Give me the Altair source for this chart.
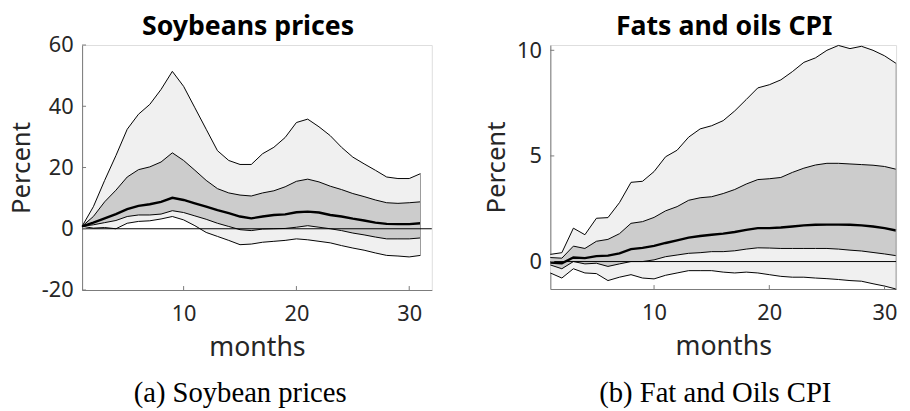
import altair as alt
import pandas as pd

months = list(range(1, 32))

# Soybean prices (percent)
soy_hi90 = [0.8, 7.2, 15.8, 23.9, 32.5, 37.4, 40.6, 45.5, 51.4, 46.5, 39.5, 32.5, 25.5, 22.3, 21.0, 21.0,
            24.5, 26.6, 29.8, 34.7, 35.8, 33.3, 30.4, 26.6, 23.4, 21.2, 19.1, 16.9, 16.4, 16.4, 18.0]
soy_hi68 = [0.8, 4.0, 8.8, 12.6, 16.9, 19.3, 20.2, 21.8, 24.8, 22.3, 19.1, 15.8, 13.1, 11.7, 11.0, 10.7,
            11.7, 12.4, 13.7, 15.5, 16.2, 15.3, 13.9, 12.8, 11.5, 10.5, 9.4, 8.5, 8.3, 8.5, 8.8]
soy_med = [0.8, 2.0, 3.4, 4.8, 6.4, 7.5, 8.0, 8.8, 10.1, 9.4, 8.3, 7.2, 6.1, 5.1, 4.0, 3.4,
           4.0, 4.5, 4.7, 5.4, 5.6, 5.3, 4.5, 4.0, 3.3, 2.7, 2.0, 1.6, 1.5, 1.5, 1.8]
soy_lo68 = [0.8, 1.3, 2.0, 2.7, 4.0, 4.5, 4.5, 4.8, 5.9, 5.3, 4.2, 3.1, 1.8, 0.75, -0.3, -0.6,
            -0.1, 0.0, 0.1, 0.5, 1.0, 0.5, 0.0, -0.6, -1.4, -2.0, -2.7, -3.3, -3.3, -3.3, -3.0]
soy_lo90 = [0.8, 0.2, 0.4, 0.0, 1.8, 2.4, 2.6, 3.2, 4.0, 2.9, 1.0, -1.2, -2.5, -3.8, -5.2, -5.0,
            -4.4, -4.1, -3.8, -3.3, -3.6, -4.1, -4.6, -5.5, -6.3, -7.0, -7.9, -8.7, -8.9, -9.2, -8.7]

# Fats and oils CPI (percent)
fat_hi90 = [0.34, 0.42, 1.58, 1.27, 2.05, 2.08, 2.79, 3.75, 3.80, 4.26, 4.96, 5.27, 5.89, 6.28, 6.43, 6.67,
            7.13, 7.67, 8.22, 8.37, 8.60, 8.99, 9.43, 9.64, 10.0, 10.23, 10.08, 10.19, 10.0, 9.74, 9.38]
fat_hi68 = [0.19, 0.16, 0.73, 0.62, 0.96, 1.05, 1.32, 1.81, 1.89, 2.09, 2.40, 2.60, 2.90, 3.02, 3.07, 3.22,
            3.41, 3.67, 3.88, 3.92, 3.98, 4.22, 4.42, 4.57, 4.65, 4.65, 4.62, 4.59, 4.56, 4.50, 4.37]
fat_med = [-0.05, -0.08, 0.19, 0.16, 0.26, 0.28, 0.39, 0.59, 0.65, 0.74, 0.88, 1.0, 1.13, 1.21, 1.27, 1.32,
           1.40, 1.50, 1.58, 1.58, 1.61, 1.66, 1.71, 1.74, 1.75, 1.75, 1.74, 1.71, 1.66, 1.58, 1.47]
fat_lo68 = [-0.16, -0.34, 0.0, -0.11, -0.08, -0.23, -0.11, 0.0, 0.0, 0.08, 0.23, 0.31, 0.39, 0.42, 0.47, 0.47,
            0.51, 0.59, 0.65, 0.64, 0.62, 0.62, 0.62, 0.62, 0.62, 0.59, 0.54, 0.50, 0.43, 0.36, 0.28]
fat_lo90 = [-0.54, -0.78, -0.34, -0.54, -0.57, -0.90, -0.74, -0.62, -0.78, -0.82, -0.65, -0.54, -0.43, -0.43,
            -0.43, -0.50, -0.54, -0.50, -0.54, -0.62, -0.70, -0.74, -0.74, -0.78, -0.81, -0.85, -0.90, -0.93,
            -1.05, -1.16, -1.30]

x_ticks = [10, 20, 30]
soy_yticks = [-20, 0, 20, 40, 60]
fat_yticks = [0, 5, 10]

titles = ["Soybeans prices", "Fats and oils CPI"]
captions = ["(a) Soybean prices", "(b) Fat and Oils CPI"]

SANS = "Noto Sans"
AXIS_GRAY = "#7a7a7a"
LABEL = "#262626"


def panel(title, caption, hi90, hi68, med, lo68, lo90, xdom, ydom, yticks, width, height, title_x, cap_x):
    df = pd.DataFrame({"month": months, "hi90": hi90, "hi68": hi68, "med": med, "lo68": lo68, "lo90": lo90})
    xs = alt.Scale(domain=xdom, nice=False, zero=False)
    ys = alt.Scale(domain=ydom, nice=False, zero=False)
    xaxis = alt.Axis(values=x_ticks, title="months", grid=False, tickSize=0, domainColor=AXIS_GRAY,
                     domainWidth=1, labelFont=SANS, labelFontSize=22, labelColor=LABEL,
                     labelBaseline="alphabetic", labelPadding=31, titleFont=SANS, titleFontSize=27,
                     titleFontWeight="normal", titleColor=LABEL, titleBaseline="alphabetic",
                     titlePadding=31, labelExpr="'' + datum.value")
    yaxis = alt.Axis(values=yticks, title="Percent", grid=False, tickSize=0, domainColor=AXIS_GRAY,
                     domainWidth=1, labelFont=SANS, labelFontSize=22, labelColor=LABEL, labelPadding=9,
                     titleFont=SANS, titleFontSize=26, titleFontWeight="normal", titleColor=LABEL,
                     titlePadding=7, labelExpr="'' + datum.value")

    def X(f):
        return alt.X(f, type="quantitative", scale=xs, axis=xaxis)

    def Y(f):
        return alt.Y(f, type="quantitative", scale=ys, axis=yaxis)

    base = alt.Chart(df)
    outer = base.mark_area(color="#f0f0f0", opacity=1).encode(x=X("month"), y=Y("lo90"), y2="hi90")
    inner = base.mark_area(color="#cccccc", opacity=1).encode(x=X("month"), y=Y("lo68"), y2="hi68")
    edges = [base.mark_line(color="black", strokeWidth=1).encode(x=X("month"), y=Y(c))
             for c in ["hi90", "lo90", "hi68", "lo68"]]
    median = base.mark_line(color="black", strokeWidth=2.4).encode(x=X("month"), y=Y("med"))
    endedge = base.transform_filter("datum.month == 31").mark_rule(color="#9a9a9a", strokeWidth=1).encode(
        x=X("month"), y=Y("lo90"), y2="hi90")
    zero = alt.Chart(pd.DataFrame({"v": [0]})).mark_rule(color="black", strokeWidth=1).encode(
        y=Y("v"), x=alt.value(0), x2=alt.value(width))
    xt = alt.Chart(pd.DataFrame({"t": x_ticks})).mark_rule(color=AXIS_GRAY, strokeWidth=1).encode(
        x=X("t"), y=alt.value(height), y2=alt.value(height - 4))
    yt = alt.Chart(pd.DataFrame({"t": yticks})).mark_rule(color=AXIS_GRAY, strokeWidth=1).encode(
        y=Y("t"), x=alt.value(0), x2=alt.value(4))
    ttl = alt.Chart(pd.DataFrame({"c": [title]})).mark_text(
        font=SANS, fontSize=27, fontWeight="bold", align="center", baseline="alphabetic", color="black").encode(
        text="c:N", x=alt.value(title_x), y=alt.value(-10))
    cap = alt.Chart(pd.DataFrame({"c": [caption]})).mark_text(
        font="Liberation Serif", fontSize=29, align="center", baseline="alphabetic", color="black").encode(
        text="c:N", x=alt.value(cap_x), y=alt.value(361))

    return alt.layer(outer, inner, *edges, median, endedge, zero, xt, yt, ttl, cap).properties(
        width=width, height=height)


left = panel(titles[0], captions[0], soy_hi90, soy_hi68, soy_med, soy_lo68, soy_lo90,
             [1, 32], [-20, 60], soy_yticks, 354, 248, 168, 160)
right = panel(titles[1], captions[1], fat_hi90, fat_hi68, fat_med, fat_lo68, fat_lo90,
              [1, 31], [-1.3, 10.25], fat_yticks, 350, 247, 176, 167)

chart = alt.hconcat(left, right, spacing=51).properties(
    padding={"left": 0, "top": 2, "right": 0, "bottom": 0}
).configure_view(strokeWidth=0).configure(background="white")

chart.save("out.html", embed_options={"renderer": "svg", "actions": False})
